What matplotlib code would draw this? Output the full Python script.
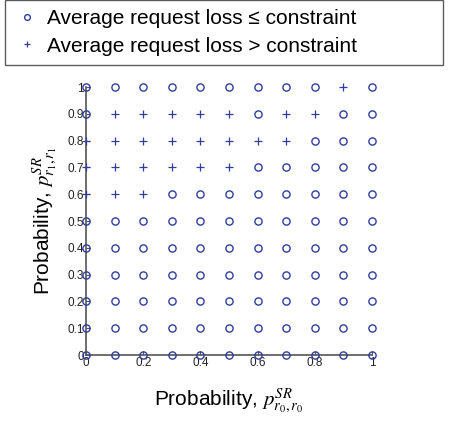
import numpy as np
import matplotlib
matplotlib.use("Agg")
from matplotlib import pyplot as plt

plt.rcParams['font.family'] = ['Liberation Sans', 'DejaVu Sans']
plt.rcParams['mathtext.fontset'] = 'stix'

# grid of probabilities
p_r0 = [0.0, 0.1, 0.2, 0.3, 0.4, 0.5, 0.6, 0.7, 0.8, 0.9, 1.0]
p_r1 = [1.0, 0.9, 0.8, 0.7, 0.6, 0.5, 0.4, 0.3, 0.2, 0.1, 0.0]

# 1 = average request loss > constraint, rows follow p_r1
exceeds = [
    [0, 0, 0, 0, 0, 0, 0, 0, 0, 1, 0],
    [0, 1, 1, 1, 1, 1, 0, 1, 1, 0, 0],
    [1, 1, 1, 1, 1, 1, 1, 1, 0, 0, 0],
    [1, 1, 1, 1, 1, 1, 0, 0, 0, 0, 0],
    [1, 1, 1, 0, 0, 0, 0, 0, 0, 0, 0],
    [0, 0, 0, 0, 0, 0, 0, 0, 0, 0, 0],
    [0, 0, 0, 0, 0, 0, 0, 0, 0, 0, 0],
    [0, 0, 0, 0, 0, 0, 0, 0, 0, 0, 0],
    [0, 0, 0, 0, 0, 0, 0, 0, 0, 0, 0],
    [0, 0, 0, 0, 0, 0, 0, 0, 0, 0, 0],
    [0, 0, 0, 0, 0, 0, 0, 0, 0, 0, 0],
]

xx, yy = np.meshgrid(p_r0, p_r1)
mask = np.array(exceeds) == 1
color = '#2e3d9e'

fig = plt.figure(figsize=(4.51, 4.25), dpi=100)
ax = fig.add_axes([86/451, 1 - 355/425, 286/451, 268/425])

ax.plot(xx[~mask], yy[~mask], 'o', ls='none', mfc='none', mec=color,
        ms=5.2, mew=1.0, clip_on=False, zorder=3,
        label='Average request loss \u2264 constraint')
ax.plot(xx[mask], yy[mask], '+', ls='none', color=color,
        ms=5.5, mew=0.9, clip_on=False, zorder=3,
        label='Average request loss > constraint')

ax.set_xlim(0, 1)
ax.set_ylim(0, 1)
ax.set_xticks([0, 0.2, 0.4, 0.6, 0.8, 1])
ax.set_xticklabels(['0', '0.2', '0.4', '0.6', '0.8', '1'])
ax.set_yticks(p_r0)
ax.set_yticklabels(['0', '0.1', '0.2', '0.3', '0.4', '0.5', '0.6',
                    '0.7', '0.8', '0.9', '1'])
ax.tick_params(direction='in', length=3, width=0.8, labelsize=8.5,
               colors='#555555', labelcolor='#222222', pad=1.5)
for s in ['top', 'right']:
    ax.spines[s].set_visible(False)
for s in ['left', 'bottom']:
    ax.spines[s].set_color('#555555')
    ax.spines[s].set_linewidth(1.2)

ax.set_xlabel(r'Probability, $p^{SR}_{r_0,r_0}$', fontsize=15, labelpad=12)
ax.set_ylabel(r'Probability, $p^{SR}_{r_1,r_1}$', fontsize=15, labelpad=6)

leg = fig.legend(loc='upper left',
                 bbox_to_anchor=(5/451, 1.0, 438/451, 0.0), mode='expand',
                 fontsize=15, markerscale=0.8, handlelength=1.2,
                 handletextpad=0.35, borderaxespad=0, borderpad=0.45,
                 labelspacing=0.4, fancybox=False, frameon=True)
leg.get_frame().set_edgecolor('#333333')
leg.get_frame().set_linewidth(1.0)

fig.savefig('out.png', dpi=100)
